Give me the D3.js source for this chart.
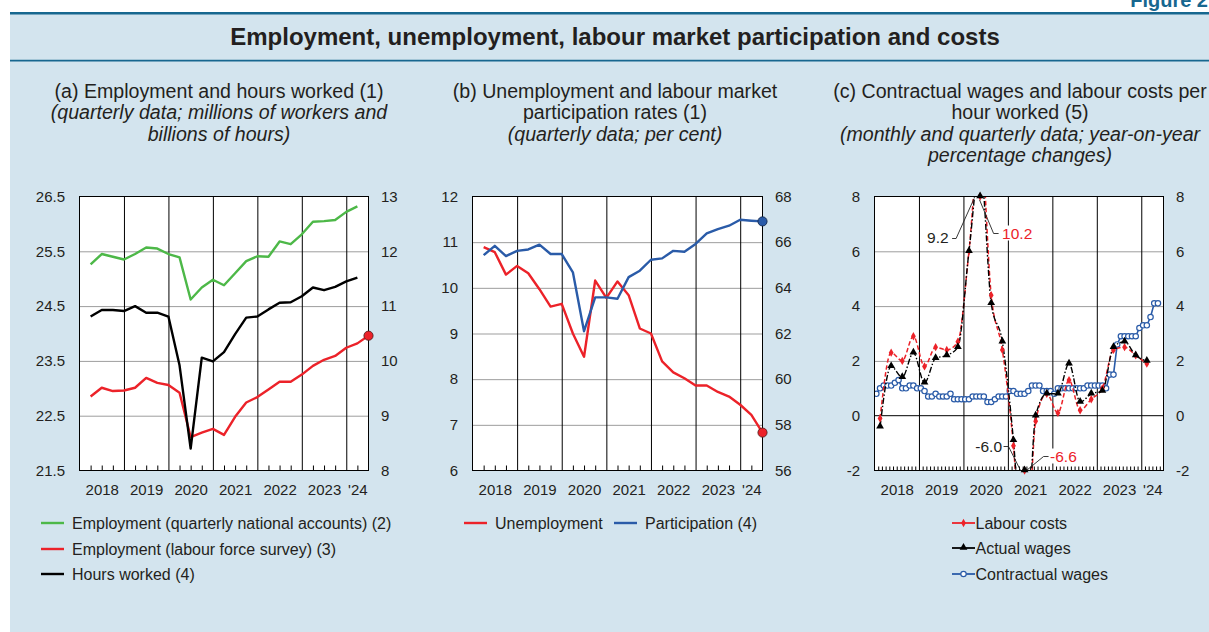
<!DOCTYPE html>
<html>
<head>
<meta charset="utf-8">
<script src="https://cdn.jsdelivr.net/npm/d3@7"></script>
<style>
  body { margin: 0; background: #fff; }
  svg { display: block; font-family: "Liberation Sans", Arial, Helvetica, sans-serif; }
</style>
</head>
<body>
<svg id="fig" width="1209" height="632"></svg>
<script>
// ---------------- data ----------------
const yearLabels = ["2018", "2019", "2020", "2021", "2022", "2023", "'24"];
const yearLabelPos = [2018.5, 2019.5, 2020.5, 2021.5, 2022.5, 2023.5, 2024.25];
const yearBounds = [2019, 2020, 2021, 2022, 2023, 2024];

// (a) quarterly, 2018 Q1 onwards
const empNationalAccounts = [25.26, 25.45, 25.40, 25.35, 25.45, 25.57, 25.55, 25.45, 25.39, 24.62,
  24.84, 24.98, 24.88, 25.10, 25.32, 25.41, 25.40, 25.68, 25.63, 25.81, 26.04, 26.05, 26.07, 26.22, 26.32];
const empLabourForce = [22.85, 23.01, 22.95, 22.96, 23.01, 23.19, 23.10, 23.06, 22.92, 22.11,
  22.19, 22.26, 22.15, 22.48, 22.74, 22.84, 22.98, 23.12, 23.12, 23.25, 23.41, 23.52, 23.59, 23.74, 23.82, 23.96];
const hoursWorked = [10.81, 10.93, 10.93, 10.91, 11.00, 10.88, 10.88, 10.81, 9.92, 8.40,
  10.06, 9.99, 10.16, 10.49, 10.79, 10.81, 10.94, 11.06, 11.07, 11.18, 11.34, 11.29, 11.35, 11.45, 11.52];

// (b) quarterly, 2018 Q1 onwards
const unemploymentRate = [10.89, 10.78, 10.29, 10.48, 10.32, 9.97, 9.59, 9.65, 9.00, 8.49,
  10.16, 9.78, 10.14, 9.84, 9.11, 9.00, 8.39, 8.15, 8.02, 7.86, 7.86, 7.72, 7.62, 7.44, 7.22, 6.83];
const participationRate = [65.43, 65.84, 65.39, 65.62, 65.68, 65.89, 65.48, 65.48, 64.68, 62.10,
  63.58, 63.58, 63.52, 64.47, 64.75, 65.23, 65.29, 65.62, 65.58, 65.92, 66.38, 66.57, 66.72, 66.98, 66.94, 66.91];

// (c) quarterly labour costs and actual wages, monthly contractual wages
const labourCosts = [-0.1, 2.3, 2.0, 2.9, 1.8, 2.5, 2.4, 2.7, 6.0, 10.2,
  4.4, 2.4, -1.1, -6.6, -0.2, 0.8, 0.1, 1.3, 0.2, 0.6, 1.0, 2.4, 2.5, 2.2, 1.9];
const actualWages = [-0.4, 1.8, 1.4, 2.3, 1.2, 2.1, 2.2, 2.5, 6.0, 9.2,
  4.1, 2.7, -0.9, -6.0, 0.0, 0.8, 0.8, 1.9, 0.5, 0.8, 0.9, 2.5, 2.7, 2.2, 2.0];
const contractualWages = [
  0.8, 1.0, 1.1, 1.1, 1.1, 1.2, 1.3, 1.0, 1.0, 1.1, 1.1, 1.0,
  1.0, 0.9, 0.7, 0.7, 0.8, 0.7, 0.7, 0.7, 0.8, 0.6, 0.6, 0.6,
  0.6, 0.6, 0.7, 0.7, 0.7, 0.7, 0.5, 0.5, 0.6, 0.7, 0.7, 0.7,
  0.9, 0.9, 0.8, 0.8, 0.8, 0.9, 1.1, 1.1, 1.1, 0.9, 0.9, 0.9,
  0.8, 1.0, 1.0, 1.0, 1.0, 1.0, 1.0, 1.0, 1.0, 1.1, 1.1, 1.1,
  1.1, 1.1, 1.0, 1.5, 1.5, 2.6, 2.9, 2.9, 2.9, 2.9, 2.9, 3.2,
  3.3, 3.3, 3.6, 4.1, 4.1];

// axis tick labels
const ticksA_left = [21.5, 22.5, 23.5, 24.5, 25.5, 26.5];
const ticksA_right = [8, 9, 10, 11, 12, 13];
const ticksB_left = [6, 7, 8, 9, 10, 11, 12];
const ticksB_right = [56, 58, 60, 62, 64, 66, 68];
const ticksC = [-2, 0, 2, 4, 6, 8];

// ---------------- styling ----------------
const TXT = "#231f20";
const BG = "#d3e4ee";
const TEAL = "#17678f";
const GREEN = "#4db848";
const RED = "#ec2229";
const BLUE = "#2a5ba8";
const GRID = "#9d9d9d";
const FONT = '"Liberation Sans", Arial, Helvetica, sans-serif';
const TICK_FS = 15;

// quarter-end, mid-quarter and mid-month positions on a decimal-year axis
const qEnd = i => 2018 + (i + 1) / 4;
const qMid = i => 2018 + (i + 0.5) / 4;
const mMid = i => 2018 + (i + 0.5) / 12;

// plain hyphen for negative numbers
const hy = f => d => f(d).replace("\u2212", "-");

const svg = d3.select("#fig");

// page background and header
svg.append("rect").attr("x", 10).attr("y", 12).attr("width", 1199).attr("height", 620).attr("fill", BG);
svg.append("line").attr("x1", 10).attr("x2", 1209).attr("y1", 13.2).attr("y2", 13.2)
  .attr("stroke", TEAL).attr("stroke-width", 2.6);
svg.append("line").attr("x1", 10).attr("x2", 1209).attr("y1", 60.6).attr("y2", 60.6)
  .attr("stroke", TEAL).attr("stroke-width", 1.6);
svg.append("text").attr("x", 1208).attr("y", 7).attr("text-anchor", "end")
  .attr("font-weight", "bold").attr("font-size", 20).attr("fill", TEAL).text("Figure 2");
svg.append("text").attr("x", 615).attr("y", 45).attr("text-anchor", "middle")
  .attr("font-weight", "bold").attr("font-size", 24).attr("fill", TXT)
  .text("Employment, unemployment, labour market participation and costs");

// panel headings
function heading(cx, lines) {
  lines.forEach((l, i) => {
    svg.append("text").attr("x", cx).attr("y", 98 + i * 21.4).attr("text-anchor", "middle")
      .attr("font-size", 19.6).attr("fill", TXT)
      .attr("font-style", l.italic ? "italic" : "normal").text(l.t);
  });
}
heading(219, [{ t: "(a) Employment and hours worked (1)" },
  { t: "(quarterly data; millions of workers and", italic: true },
  { t: "billions of hours)", italic: true }]);
heading(615, [{ t: "(b) Unemployment and labour market" },
  { t: "participation rates (1)" },
  { t: "(quarterly data; per cent)", italic: true }]);
heading(1020, [{ t: "(c) Contractual wages and labour costs per" },
  { t: "hour worked (5)" },
  { t: "(monthly and quarterly data; year-on-year", italic: true },
  { t: "percentage changes)", italic: true }]);

// ---------------- panel frame ----------------
function makePanel(key, box, cfg) {
  const g = svg.append("g");
  const w = box.x1 - box.x0, h = box.y1 - box.y0;
  const x = d3.scaleLinear().domain([2018, 2024.5]).range([box.x0, box.x1]);
  const yL = d3.scaleLinear().domain(cfg.left).range([box.y1, box.y0]);
  const yR = d3.scaleLinear().domain(cfg.right).range([box.y1, box.y0]);

  g.append("rect").attr("x", box.x0).attr("y", box.y0).attr("width", w).attr("height", h).attr("fill", "#fff");

  const style = sel => {
    sel.select(".domain").remove();
    sel.attr("font-size", TICK_FS).attr("font-family", FONT);
    sel.selectAll("text").attr("fill", TXT);
    return sel;
  };

  // horizontal grid
  const grid = g.append("g").attr("transform", `translate(${box.x0},0)`)
    .call(d3.axisLeft(yL).tickValues(cfg.grid).tickSize(-w).tickFormat(""));
  style(grid).selectAll("line").attr("stroke", GRID).attr("stroke-width", 1);
  if (cfg.zeroLine) {
    g.append("line").attr("x1", box.x0).attr("x2", box.x1)
      .attr("y1", yL(0)).attr("y2", yL(0)).attr("stroke", "#000").attr("stroke-width", 1);
  }

  // year separators
  const yrs = g.append("g").attr("transform", `translate(0,${box.y1})`)
    .call(d3.axisBottom(x).tickValues(yearBounds).tickSize(-h).tickFormat(""));
  style(yrs).selectAll("line").attr("stroke", "#000").attr("stroke-width", 1);

  // minor ticks
  const minor = g.append("g").attr("transform", `translate(0,${box.y1})`)
    .call(d3.axisBottom(x).tickValues(cfg.minor).tickSize(-cfg.minorLen).tickFormat(""));
  style(minor).selectAll("line").attr("stroke", "#000").attr("stroke-width", 1);

  // tick labels
  style(g.append("g").attr("transform", `translate(${box.x0},0)`)
    .call(d3.axisLeft(yL).tickValues(cfg.leftTicks).tickSize(0).tickPadding(14.5).tickFormat(cfg.fmtL)));
  style(g.append("g").attr("transform", `translate(${box.x1},0)`)
    .call(d3.axisRight(yR).tickValues(cfg.rightTicks).tickSize(0).tickPadding(12.5).tickFormat(cfg.fmtR)));
  style(g.append("g").attr("transform", `translate(0,${box.y1})`)
    .call(d3.axisBottom(x).tickValues(yearLabelPos).tickSize(0).tickPadding(14)
      .tickFormat((d, i) => yearLabels[i])));

  // clip for data
  const clipId = "clip-" + key;
  svg.append("defs").append("clipPath").attr("id", clipId)
    .append("rect").attr("x", box.x0).attr("y", box.y0).attr("width", w).attr("height", h);
  const data = g.append("g").attr("clip-path", `url(#${clipId})`);

  const frame = () => g.append("rect").attr("x", box.x0).attr("y", box.y0).attr("width", w).attr("height", h)
    .attr("fill", "none").attr("stroke", "#000").attr("stroke-width", 1);

  return { g, data, x, yL, yR, frame };
}

const quarterTicks = d3.range(1, 26).filter(q => q % 4 !== 0).map(q => 2018 + q / 4);
const monthTicks = d3.range(1, 78).filter(m => m % 12 !== 0).map(m => 2018 + m / 12);

function qLine(P, values, yScale, color, width) {
  const line = d3.line().x((d, i) => P.x(qEnd(i))).y(d => yScale(d));
  P.data.append("path").datum(values).attr("d", line).attr("fill", "none")
    .attr("stroke", color).attr("stroke-width", width).attr("stroke-linejoin", "round");
}
function endDot(P, values, yScale, fill, stroke) {
  const i = values.length - 1;
  P.g.append("circle").attr("cx", P.x(qEnd(i))).attr("cy", yScale(values[i])).attr("r", 4.6)
    .attr("fill", fill).attr("stroke", stroke).attr("stroke-width", 0.8);
}

// ---------------- (a) ----------------
const A = makePanel("a", { x0: 79.5, x1: 368.5, y0: 196.5, y1: 470.5 }, {
  left: [21.5, 26.5], right: [8, 13], grid: [22.5, 23.5, 24.5, 25.5],
  leftTicks: ticksA_left, rightTicks: ticksA_right,
  fmtL: d3.format(".1f"), fmtR: d3.format("d"),
  minor: quarterTicks, minorLen: 5
});
qLine(A, empNationalAccounts, A.yL, GREEN, 2.4);
qLine(A, empLabourForce, A.yL, RED, 2.4);
qLine(A, hoursWorked, A.yR, "#000", 2.4);
A.frame();
endDot(A, empLabourForce, A.yL, RED, "#4a1a1a");

// ---------------- (b) ----------------
const B = makePanel("b", { x0: 472.5, x1: 762.5, y0: 196.5, y1: 470.5 }, {
  left: [6, 12], right: [56, 68], grid: [7, 8, 9, 10, 11],
  leftTicks: ticksB_left, rightTicks: ticksB_right,
  fmtL: d3.format("d"), fmtR: d3.format("d"),
  minor: quarterTicks, minorLen: 5
});
qLine(B, unemploymentRate, B.yL, RED, 2.4);
qLine(B, participationRate, B.yR, BLUE, 2.4);
B.frame();
endDot(B, unemploymentRate, B.yL, RED, "#4a1a1a");
endDot(B, participationRate, B.yR, BLUE, "#0e2140");

// ---------------- (c) ----------------
const C = makePanel("c", { x0: 874.5, x1: 1163.5, y0: 196.5, y1: 470.5 }, {
  left: [-2, 8], right: [-2, 8], grid: [2, 4, 6], zeroLine: true,
  leftTicks: ticksC, rightTicks: ticksC,
  fmtL: hy(d3.format("d")), fmtR: hy(d3.format("d")),
  minor: monthTicks, minorLen: 4
});
const yC = C.yL;
const yClamp = v => yC(Math.max(-2, Math.min(8, v)));

// contractual wages: monthly, solid line with open circles
C.data.append("path").datum(contractualWages)
  .attr("d", d3.line().x((d, i) => C.x(mMid(i))).y(d => yC(d)))
  .attr("fill", "none").attr("stroke", BLUE).attr("stroke-width", 1.6);
C.data.selectAll("circle.cw").data(contractualWages).join("circle").attr("class", "cw")
  .attr("cx", (d, i) => C.x(mMid(i))).attr("cy", d => yC(d)).attr("r", 2.7)
  .attr("fill", "#fff").attr("stroke", BLUE).attr("stroke-width", 1.2);

// quarterly series: smoothed dashed lines with markers
const smooth = d3.line().curve(d3.curveMonotoneX).x((d, i) => C.x(qMid(i))).y(d => yC(d));
C.data.append("path").datum(labourCosts).attr("d", smooth).attr("fill", "none")
  .attr("stroke", RED).attr("stroke-width", 1.5).attr("stroke-dasharray", "4.5,2.5");
C.data.append("path").datum(actualWages).attr("d", smooth).attr("fill", "none")
  .attr("stroke", "#000").attr("stroke-width", 1.4).attr("stroke-dasharray", "6,2,1.5,2");

const diamond = d3.symbol().type(d3.symbolDiamond).size(20);
const triangle = d3.symbol().type(d3.symbolTriangle).size(26);
C.g.selectAll("path.lc").data(labourCosts).join("path").attr("class", "lc")
  .attr("d", diamond).attr("fill", RED)
  .attr("transform", (d, i) => `translate(${C.x(qMid(i))},${yClamp(d)})`);
C.frame();
C.g.selectAll("path.aw").data(actualWages).join("path").attr("class", "aw")
  .attr("d", triangle).attr("fill", "#000")
  .attr("transform", (d, i) => `translate(${C.x(qMid(i))},${yClamp(d) - 0.5})`);

// value call-outs for observations beyond the axis range
const callouts = [
  { series: actualWages, i: 9, color: TXT, anchor: "end", tx: -31.5, ty: 46.5, lead: [[-28, 42], [-24, 42], [-6, 2]] },
  { series: labourCosts, i: 9, color: RED, anchor: "start", tx: 22, ty: 42, lead: [[18.5, 37], [13.5, 37], [-0.5, 3.5]] },
  { series: actualWages, i: 13, color: TXT, anchor: "end", tx: -22.5, ty: -19, lead: [[-21, -24], [-16, -24], [-4, 0]] },
  { series: labourCosts, i: 13, color: RED, anchor: "start", tx: 25.5, ty: -9, lead: [[24, -14], [19, -14], [2.5, -0.5]] }
];
const fmt1 = hy(d3.format(".1f"));
callouts.forEach(c => {
  const px = C.x(qMid(c.i)), py = yClamp(c.series[c.i]);
  const t = C.g.append("text").attr("x", px + c.tx).attr("y", py + c.ty)
    .attr("text-anchor", c.anchor).attr("font-size", 15.5).attr("fill", c.color)
    .text(fmt1(c.series[c.i]));
  const bb = t.node().getBBox();
  C.g.insert("rect", () => t.node()).attr("x", bb.x - 1).attr("y", bb.y + 1)
    .attr("width", bb.width + 2).attr("height", bb.height - 2).attr("fill", "#fff");
  C.g.append("path").attr("d", d3.line()(c.lead.map(p => [px + p[0], py + p[1]])))
    .attr("fill", "none").attr("stroke", "#222").attr("stroke-width", 0.9);
});

// ---------------- legends ----------------
function legendItem(x, y, color, label, marker) {
  const g = svg.append("g");
  g.append("line").attr("x1", x).attr("x2", x + 23).attr("y1", y).attr("y2", y)
    .attr("stroke", color).attr("stroke-width", marker ? 1.8 : 2.4);
  if (marker === "diamond") g.append("path").attr("d", diamond).attr("fill", RED).attr("transform", `translate(${x + 11.5},${y})`);
  if (marker === "triangle") g.append("path").attr("d", triangle).attr("fill", "#000").attr("transform", `translate(${x + 11.5},${y - 0.5})`);
  if (marker === "circle") g.append("circle").attr("cx", x + 11.5).attr("cy", y).attr("r", 2.7)
    .attr("fill", "#fff").attr("stroke", BLUE).attr("stroke-width", 1.2);
  g.append("text").attr("x", x + (marker ? 23.5 : 31)).attr("y", y + 5.5).attr("font-size", 16)
    .attr("fill", TXT).text(label);
}
legendItem(41, 523, GREEN, "Employment (quarterly national accounts) (2)");
legendItem(41, 549, RED, "Employment (labour force survey) (3)");
legendItem(41, 574, "#000", "Hours worked (4)");
legendItem(464, 523, RED, "Unemployment");
legendItem(614, 523, BLUE, "Participation (4)");
legendItem(952, 523, RED, "Labour costs", "diamond");
legendItem(952, 548, "#000", "Actual wages", "triangle");
legendItem(952, 574, BLUE, "Contractual wages", "circle");
</script>
</body>
</html>
